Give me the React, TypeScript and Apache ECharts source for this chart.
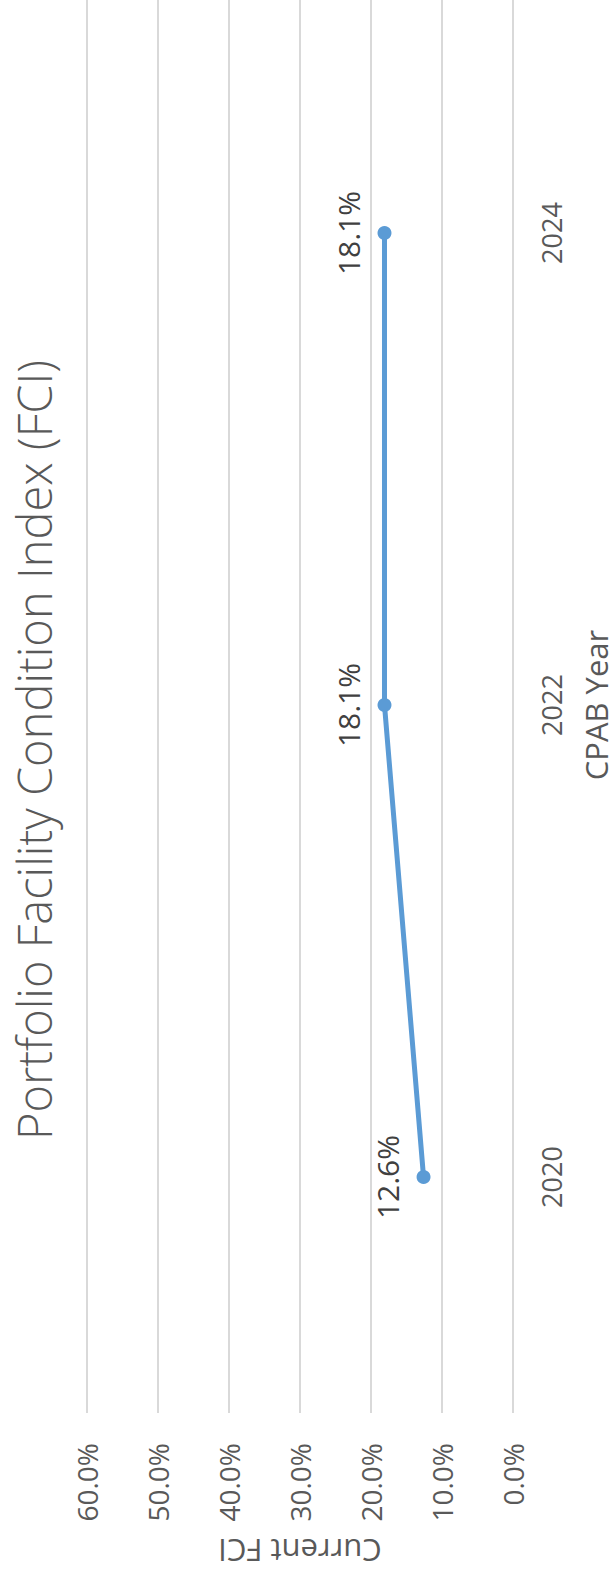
import React, { useEffect, useRef } from "react";
import * as echarts from "echarts";

const years = ["2020", "2022", "2024"];
const fciValues = [0.126, 0.181, 0.181];
const titleText = "Portfolio Facility Condition Index (FCI)";
const valueAxisName = "Current FCI";
const categoryAxisName = "CPAB Year";

const FONT = "'Open Sans', 'Liberation Sans', sans-serif";

export default function App() {
  const ref = useRef<HTMLDivElement>(null);
  useEffect(() => {
    document.body.style.margin = "0";
    const chart = echarts.init(ref.current!, null, { renderer: "svg" });
    chart.setOption({
      animation: false,
      backgroundColor: "#ffffff",
      textStyle: { fontFamily: FONT },
      grid: {
        left: 87,
        right: 615 - 513,
        top: -3,
        bottom: 1575 - 1413,
        containLabel: false,
        outerBoundsMode: "none",
      },
      xAxis: {
        type: "value",
        min: 0,
        max: 0.6,
        interval: 0.1,
        inverse: true,
        position: "bottom",
        name: valueAxisName,
        nameLocation: "middle",
        nameRotate: 180,
        nameGap: 122,
        nameTextStyle: { fontSize: 31, color: "#595959", fontFamily: FONT },
        axisLine: { show: false },
        axisTick: { show: false },
        axisLabel: {
          rotate: 90,
          margin: 30,
          fontSize: 28,
          color: "#595959",
          fontFamily: FONT,
          formatter: (v: number) => (v * 100).toFixed(1) + "%",
        },
        splitLine: { show: true, lineStyle: { color: "#d9d9d9", width: 2 } },
      },
      yAxis: {
        type: "category",
        data: years,
        position: "right",
        boundaryGap: true,
        name: categoryAxisName,
        nameLocation: "middle",
        nameGap: 67,
        nameTextStyle: { fontSize: 31, color: "#595959", fontFamily: FONT },
        axisLine: { show: false },
        axisTick: { show: false },
        axisLabel: {
          rotate: 90,
          margin: 25,
          fontSize: 27,
          color: "#595959",
          fontFamily: FONT,
        },
        splitLine: { show: false },
      },
      series: [
        {
          type: "line",
          data: fciValues,
          symbol: "circle",
          symbolSize: 14,
          itemStyle: { color: "#5B9BD5" },
          lineStyle: { color: "#5B9BD5", width: 5 },
          label: {
            show: true,
            position: "left",
            distance: 14,
            rotate: 90,
            align: "center",
            verticalAlign: "bottom",
            fontSize: 30,
            color: "#404040",
            fontFamily: FONT,
            formatter: (p: any) => (p.value * 100).toFixed(1) + "%",
          },
        },
      ],
      graphic: [
        {
          type: "text",
          x: 34,
          y: 750,
          rotation: Math.PI / 2,
          style: {
            text: titleText,
            fontSize: 47,
            lineHeight: 46,
            fontWeight: 300,
            fontFamily: FONT,
            fill: "#595959",
            align: "center",
            verticalAlign: "middle",
          },
        },
      ],
    });
    return () => chart.dispose();
  }, []);
  return <div ref={ref} style={{ width: 615, height: 1575 }} />;
}
